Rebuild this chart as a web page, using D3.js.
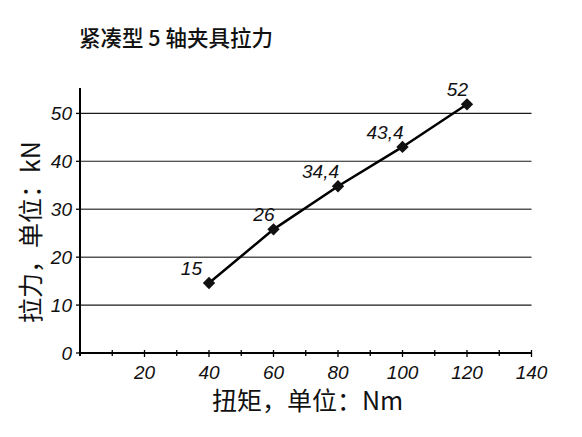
<!DOCTYPE html>
<html>
<head>
<meta charset="utf-8">
<script src="https://cdn.jsdelivr.net/npm/d3@7"></script>
<style>
  body { margin: 0; background: #fff; }
  text { fill: #111; }
</style>
</head>
<body>
<div id="chart"></div>
<script>
// chart data
const torque = [40, 60, 80, 100, 120];
const force = [14.6, 25.8, 34.8, 43.0, 51.9];
const forceLabels = ["15", "26", "34,4", "43,4", "52"];
const xTicks = [20, 40, 60, 80, 100, 120, 140];
const yTicks = [0, 10, 20, 30, 40, 50];
const title = "紧凑型 5 轴夹具拉力";
const xTitle = "扭矩，单位：Nm";
const yTitle = "拉力，单位：kN";

const W = 582, H = 437;
const numFont = "'Liberation Sans', Arial, sans-serif";
const cjkFont = "'Noto Sans CJK SC', 'Liberation Sans', sans-serif";

const svg = d3.select("#chart").append("svg")
  .attr("width", W).attr("height", H);

const x = d3.scaleLinear().domain([0, 140]).range([80, 531.5]);
const y = d3.scaleLinear().domain([0, 55.3]).range([353, 88]);

// title
svg.append("text")
  .attr("x", 79).attr("y", 46)
  .style("font-family", cjkFont).style("font-size", "21.5px").style("font-weight", 500)
  .text(title);

// grid lines (20 and 30 look a bit lighter in the original)
svg.selectAll(".grid")
  .data(yTicks.filter(d => d > 0))
  .enter().append("line")
  .attr("x1", x(0)).attr("x2", x(140))
  .attr("y1", d => y(d)).attr("y2", d => y(d))
  .attr("stroke", d => (d === 20 || d === 30) ? "#555" : "#1a1a1a")
  .attr("stroke-width", d => (d === 20 || d === 30) ? 1.5 : 1.1);

// x axis with minor ticks every 10
const xAxis = svg.append("g").attr("transform", `translate(0,${y(0)})`);
xAxis.append("line")
  .attr("x1", x(0)).attr("x2", x(140))
  .attr("stroke", "#000").attr("stroke-width", 2);
xAxis.selectAll(".tk")
  .data(d3.range(10, 141, 10))
  .enter().append("line")
  .attr("x1", d => x(d)).attr("x2", d => x(d))
  .attr("y1", -3).attr("y2", d => d % 20 === 0 ? 4 : 3)
  .attr("stroke", "#000").attr("stroke-width", 1.3);
xAxis.selectAll(".lb")
  .data(xTicks)
  .enter().append("text")
  .attr("x", d => x(d)).attr("y", 26)
  .attr("text-anchor", "middle")
  .style("font-family", numFont).style("font-size", "19px").style("font-style", "italic")
  .text(d => d);

// y axis
const yAxis = svg.append("g").attr("transform", `translate(${x(0)},0)`);
yAxis.append("line")
  .attr("y1", 88).attr("y2", y(0) + 3)
  .attr("stroke", "#000").attr("stroke-width", 2);
yAxis.selectAll(".tk")
  .data(yTicks)
  .enter().append("line")
  .attr("x1", -4).attr("x2", 0)
  .attr("y1", d => y(d)).attr("y2", d => y(d))
  .attr("stroke", "#000").attr("stroke-width", 1.3);
yAxis.selectAll(".lb")
  .data(yTicks)
  .enter().append("text")
  .attr("x", -8).attr("y", d => y(d))
  .attr("dy", "0.36em")
  .attr("text-anchor", "end")
  .style("font-family", numFont).style("font-size", "19px").style("font-style", "italic")
  .text(d => d);

// axis titles
svg.append("text")
  .attr("x", 307.5).attr("y", 410)
  .attr("text-anchor", "middle")
  .style("font-family", cjkFont).style("font-size", "25px")
  .text(xTitle);
svg.append("text")
  .attr("transform", "translate(40,232) rotate(-90)")
  .attr("text-anchor", "middle")
  .style("font-family", cjkFont).style("font-size", "25px")
  .text(yTitle);

// series line
const pts = torque.map((t, i) => [t, force[i]]);
svg.append("path")
  .datum(pts)
  .attr("d", d3.line().x(d => x(d[0])).y(d => y(d[1])))
  .attr("fill", "none").attr("stroke", "#000").attr("stroke-width", 2.5);

// diamond markers
svg.selectAll(".mk")
  .data(pts)
  .enter().append("path")
  .attr("d", d3.symbol().type(d3.symbolSquare).size(76))
  .attr("transform", d => `translate(${x(d[0])},${y(d[1])}) rotate(45)`)
  .attr("fill", "#111");

// value labels
svg.selectAll(".vl")
  .data(pts)
  .enter().append("text")
  .attr("x", (d, i) => x(d[0]) + (i === 0 ? -7 : 1))
  .attr("y", d => y(d[1]) - 8)
  .attr("text-anchor", "end")
  .style("font-family", numFont).style("font-size", "19px").style("font-style", "italic")
  .text((d, i) => forceLabels[i]);
</script>
</body>
</html>
